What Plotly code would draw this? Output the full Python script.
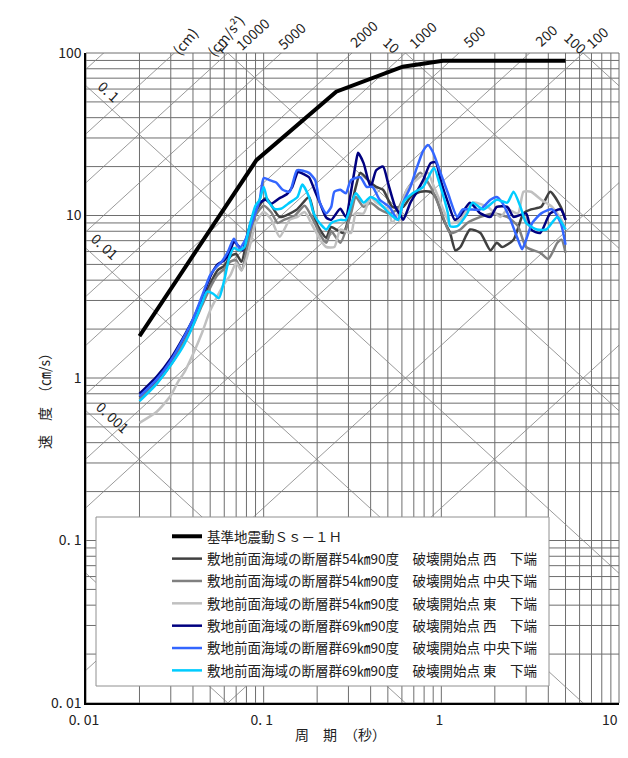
import math
import plotly.graph_objects as go

# ---------------- data ----------------
ss_T = [0.02, 0.091, 0.256, 0.607, 1.02, 5.0]
ss_V = [1.81, 21.9, 57.8, 82.4, 89.7, 89.7]

w54_T = [0.02,0.025,0.03,0.035,0.04,0.045,0.05,0.055,0.06,0.065,0.07,0.075,0.08,0.085,0.09,0.103,0.123,0.154,0.18,0.195,0.207,0.225,0.24,0.28,0.33,0.35,0.40,0.43,0.47,0.53,0.61,0.67,0.76,0.87,0.93,1.03,1.12,1.2,1.28,1.45,1.66,1.89,2.05,2.2,2.55,2.9,3.2,3.65,4.1,4.7,5.0]
w54_V = [0.76,0.97,1.25,1.7,2.2,2.9,3.8,4.6,4.9,5.6,5.8,5.2,6.8,8.5,10.5,12.8,9.8,10.9,13.0,9.4,8.2,7.3,8.5,7.8,15.0,18.3,15.9,15.0,14.4,11.3,11.3,13.0,14.0,14.0,13.0,9.4,7.8,6.1,6.4,8.2,7.8,6.1,6.8,6.4,7.1,10.3,10.9,11.3,14.0,11.3,9.4]

c54_T = [0.02,0.025,0.03,0.035,0.04,0.045,0.05,0.055,0.06,0.065,0.07,0.075,0.08,0.085,0.09,0.1,0.11,0.12,0.13,0.15,0.17,0.19,0.21,0.225,0.24,0.27,0.31,0.33,0.365,0.40,0.45,0.51,0.57,0.64,0.7,0.76,0.87,0.99,1.12,1.28,1.4,1.66,1.95,2.35,2.7,3.0,3.6,4.0,4.5,4.75,5.0]
c54_V = [0.74,0.93,1.2,1.6,2.1,2.8,3.6,4.3,4.7,5.2,5.3,4.6,6.0,8.0,10.0,11.5,10.5,9.0,9.4,10.0,11.5,9.4,7.5,6.8,8.0,6.8,10.3,13.0,11.3,12.0,10.9,10.3,11.0,14.4,16.5,18.3,15.0,10.9,7.8,8.2,9.0,9.8,10.3,9.8,8.6,6.4,5.9,5.4,6.8,7.1,5.9]

e54_T = [0.02,0.025,0.03,0.033,0.036,0.04,0.045,0.05,0.055,0.06,0.065,0.07,0.075,0.08,0.085,0.09,0.1,0.11,0.123,0.14,0.155,0.17,0.19,0.21,0.225,0.25,0.27,0.31,0.33,0.365,0.40,0.43,0.50,0.53,0.59,0.64,0.72,0.84,0.89,0.99,1.12,1.28,1.5,1.82,2.15,2.35,2.7,2.9,3.2,3.65,4.2,4.75,5.0]
e54_V = [0.53,0.62,0.78,0.95,1.1,1.4,1.9,2.6,3.2,3.8,4.3,5.1,4.6,5.4,7.0,9.0,10.5,9.5,7.4,9.4,9.8,10.5,8.5,7.0,6.4,6.4,8.2,7.8,10.3,10.3,13.0,12.0,10.9,9.0,11.3,14.4,16.5,18.3,15.9,12.0,9.0,9.4,12.0,11.3,9.8,10.9,10.3,14.0,14.0,12.5,11.3,9.4,8.2]

w69_T = [0.02,0.025,0.03,0.035,0.04,0.045,0.05,0.055,0.06,0.064,0.068,0.072,0.076,0.08,0.085,0.09,0.095,0.103,0.11,0.123,0.135,0.145,0.156,0.168,0.18,0.195,0.207,0.225,0.24,0.27,0.29,0.31,0.33,0.34,0.365,0.40,0.43,0.47,0.50,0.55,0.59,0.61,0.67,0.72,0.79,0.87,0.93,0.99,1.09,1.19,1.28,1.45,1.66,1.89,2.05,2.35,2.55,3.0,3.2,3.6,4.1,4.7,5.0]
w69_V = [0.80,1.02,1.32,1.75,2.3,3.1,4.2,5.0,5.3,5.8,6.9,6.5,6.1,7.3,9.2,10.8,12.0,12.5,11.8,12.8,13.5,15.0,18.5,18.0,17.2,14.0,12.0,9.7,9.4,11.0,9.8,14.0,21.0,24.3,21.0,15.0,19.0,20.0,16.0,11.3,10.0,9.4,12.0,13.7,16.5,21.0,21.3,16.5,12.0,9.4,10.0,12.0,10.3,9.8,11.3,11.3,9.8,10.3,8.2,7.8,10.3,10.9,9.4]

c69_T = [0.02,0.025,0.03,0.035,0.04,0.045,0.05,0.054,0.058,0.063,0.068,0.073,0.079,0.087,0.095,0.10,0.108,0.118,0.128,0.14,0.154,0.168,0.18,0.195,0.207,0.225,0.24,0.25,0.27,0.29,0.31,0.35,0.38,0.41,0.45,0.51,0.57,0.61,0.67,0.72,0.79,0.84,0.89,0.99,1.09,1.23,1.32,1.45,1.66,1.89,2.05,2.2,2.45,2.7,2.85,3.0,3.25,3.65,4.2,4.7,5.0]
c69_V = [0.77,0.98,1.28,1.72,2.3,3.2,4.3,4.8,5.2,6.0,7.2,6.3,7.1,9.4,12.5,17.0,16.5,15.9,14.4,14.0,19.0,18.8,18.3,16.5,12.0,10.3,11.3,14.0,14.4,13.7,16.5,17.2,15.0,15.0,12.5,11.3,9.4,12.0,15.0,19.0,25.0,27.2,25.0,18.3,13.7,9.8,10.9,10.9,10.9,12.5,13.0,12.0,9.4,7.1,6.2,7.1,9.0,10.3,10.9,9.0,6.6]

e69_T = [0.02,0.025,0.03,0.035,0.04,0.045,0.048,0.052,0.056,0.06,0.064,0.068,0.073,0.078,0.083,0.09,0.095,0.10,0.105,0.115,0.125,0.14,0.155,0.165,0.18,0.19,0.2,0.225,0.24,0.27,0.29,0.33,0.365,0.40,0.43,0.47,0.51,0.57,0.61,0.69,0.79,0.87,0.91,0.99,1.09,1.12,1.23,1.4,1.5,1.72,2.05,2.35,2.55,2.79,3.0,3.45,3.9,4.5,5.0]
e69_V = [0.72,0.92,1.2,1.55,2.1,2.9,3.4,3.3,3.1,4.0,5.5,6.3,6.1,6.4,8.5,11.5,12.5,15.0,12.5,11.0,11.0,12.0,13.0,15.5,13.0,10.5,9.4,8.2,9.0,9.4,9.4,13.7,12.0,13.0,12.5,11.3,10.3,9.4,12.0,13.7,15.0,18.3,19.6,15.0,10.3,8.6,8.6,10.3,12.0,10.9,12.5,12.0,14.0,11.3,9.0,8.2,8.2,9.8,8.2]

series_names = [
    "基準地震動Ｓｓ－１Ｈ",
    "敷地前面海域の断層群54㎞90度　破壊開始点 西　下端",
    "敷地前面海域の断層群54㎞90度　破壊開始点 中央下端",
    "敷地前面海域の断層群54㎞90度　破壊開始点 東　下端",
    "敷地前面海域の断層群69㎞90度　破壊開始点 西　下端",
    "敷地前面海域の断層群69㎞90度　破壊開始点 中央下端",
    "敷地前面海域の断層群69㎞90度　破壊開始点 東　下端",
]
series_colors = ["#000000", "#404040", "#808080", "#c0c0c0", "#000080", "#3366ff", "#00ccff"]

disp_lines = [0.0001, 0.001, 0.01, 0.1, 1, 10, 100]          # cm
acc_lines = [1, 10, 100, 200, 500, 1000, 2000, 5000, 10000, 20000, 50000]  # cm/s2

x_tickvals = [0.01, 0.1, 1, 10]
x_ticktext = ["0. 01", "0. 1", "1", "10"]
y_tickvals = [0.01, 0.1, 1, 10, 100]
y_ticktext = ["0. 01", "0. 1", "1", "10", "100"]

# ---------------- layout helpers ----------------
# page body has an 8px margin: figure is placed at (8, 8) in the window
OFF = 8
W, H = 612, 742
ML, MR, MT, MB = 78, 1, 45, 47
PX0, PY0 = OFF + ML, OFF + MT          # screen position of plot's top-left
PW, PH = W - ML - MR, H - MT - MB
FONT = "Noto Sans CJK JP"

def paper(px, py):
    """screen pixel -> paper coords"""
    return (px - PX0) / PW, 1 - (py - PY0) / PH

fig = go.Figure()

# grid lines (vertical / horizontal)
gx, gy = [], []
for d in [0.01, 0.1, 1]:
    for m in range(1, 10):
        gx += [m * d, m * d, None]
        gy += [0.01, 100, None]
hx, hy = [], []
for d in [0.01, 0.1, 1, 10]:
    for m in range(1, 10):
        hx += [0.01, 10, None]
        hy += [m * d, m * d, None]
fig.add_trace(go.Scatter(x=gx + hx, y=gy + hy, mode="lines",
                         line=dict(color="#6e6e6e", width=1),
                         hoverinfo="skip", showlegend=False))

# diagonal lines
dx, dy = [], []
tw = 2 * math.pi
for D in disp_lines:
    dx += [0.01, 10, None]
    dy += [tw * D / 0.01, tw * D / 10, None]
for A in acc_lines:
    dx += [0.01, 10, None]
    dy += [A * 0.01 / tw, A * 10 / tw, None]
fig.add_trace(go.Scatter(x=dx, y=dy, mode="lines",
                         line=dict(color="#808080", width=0.8),
                         hoverinfo="skip", showlegend=False))

curves = [(ss_T, ss_V), (w54_T, w54_V), (c54_T, c54_V), (e54_T, e54_V),
          (w69_T, w69_V), (c69_T, c69_V), (e69_T, e69_V)]
for i, ((tt, vv), name, col) in enumerate(zip(curves, series_names, series_colors)):
    assert len(tt) == len(vv), name
    fig.add_trace(go.Scatter(
        x=tt, y=vv, mode="lines", name=name,
        line=dict(color=col, width=4 if i == 0 else 2.5,
                  shape="linear" if i == 0 else "spline", smoothing=0.6),
        legendgroup=f"g{i}"))

# legend box
lx0, ly1 = paper(96, 517)
lx1, ly0 = paper(549, 686)
fig.add_shape(type="rect", xref="paper", yref="paper", x0=lx0, x1=lx1, y0=ly0, y1=ly1,
              fillcolor="white", line=dict(color="#909090", width=1), layer="above")
# top/right border
fig.add_shape(type="line", xref="paper", yref="paper", x0=0, x1=1, y0=1, y1=1,
              line=dict(color="#6e6e6e", width=1))
fig.add_shape(type="line", xref="paper", yref="paper", x0=1, x1=1, y0=0, y1=1,
              line=dict(color="#6e6e6e", width=1))

ang = math.degrees(math.atan((PH / 4) / (PW / 3)))
labels = [
    ("0. 1", 109, 91, ang), ("0. 01", 105, 246, ang), ("0. 001", 113, 417, ang),
    ("1", 225, 47, ang), ("10", 392, 45, ang), ("100", 576, 43, ang),
    ("10000", 252, 34, -ang), ("5000", 291, 36, -ang), ("2000", 363, 34, -ang),
    ("1000", 422, 35, -ang), ("500", 474, 36, -ang), ("200", 546, 35, -ang),
    ("100", 597, 37, -ang),
    ("(cm)", 185, 41, -50), ("(cm/s²)", 225, 36, -50),
]
for txt, px, py, a in labels:
    x, y = paper(px, py)
    fig.add_annotation(x=x, y=y, xref="paper", yref="paper", text=txt, showarrow=False,
                       textangle=a, font=dict(family=FONT, size=14, color="#222"),
                       xanchor="center", yanchor="middle")

# axis titles
x, y = paper(340, 746)
fig.add_annotation(x=x, y=y, xref="paper", yref="paper", text="周　期　（秒）",
                   showarrow=False, font=dict(family=FONT, size=14, color="#222"))
x, y = paper(32, 398)
fig.add_annotation(x=x, y=y, xref="paper", yref="paper", text="速　度　（㎝/s）",
                   showarrow=False, textangle=-90, font=dict(family=FONT, size=14, color="#222"))

# the last x tick label ("10") is drawn as an annotation so it stays inside the figure
shown_xticktext = x_ticktext[:-1] + [""]
x, y = paper(610, 719)
fig.add_annotation(x=x, y=y, xref="paper", yref="paper", text=x_ticktext[-1], showarrow=False,
                   font=dict(family=FONT, size=14, color="#222"), xanchor="center", yanchor="middle")

lgx, lgy = paper(167, 521)
fig.update_layout(
    width=W, height=H,
    margin=dict(l=ML, r=MR, t=MT, b=MB, pad=0, autoexpand=False),
    paper_bgcolor="white", plot_bgcolor="white",
    font=dict(family=FONT, size=14, color="#222"),
    showlegend=True,
    legend=dict(x=lgx, y=lgy, xanchor="left", yanchor="top", bgcolor="rgba(0,0,0,0)",
                borderwidth=0, font=dict(family=FONT, size=13.5, color="#222"),
                tracegroupgap=1.8, itemwidth=30),
    xaxis=dict(type="log", range=[-2, 1], showgrid=False, zeroline=False, automargin=False,
               tickvals=x_tickvals, ticktext=shown_xticktext, ticks="", ticklabelshift=-2,
               ticklabelstandoff=3, ticklabeloverflow="allow",
               showline=True, linecolor="black", linewidth=1.5,
               tickfont=dict(family=FONT, size=14, color="#222")),
    yaxis=dict(type="log", range=[-2, 2], showgrid=False, zeroline=False, automargin=False,
               tickvals=y_tickvals, ticktext=y_ticktext, ticks="", ticklabeloverflow="allow",
               showline=True, linecolor="black", linewidth=1.5,
               tickfont=dict(family=FONT, size=14, color="#222")),
)

fig.write_html("out.html")
